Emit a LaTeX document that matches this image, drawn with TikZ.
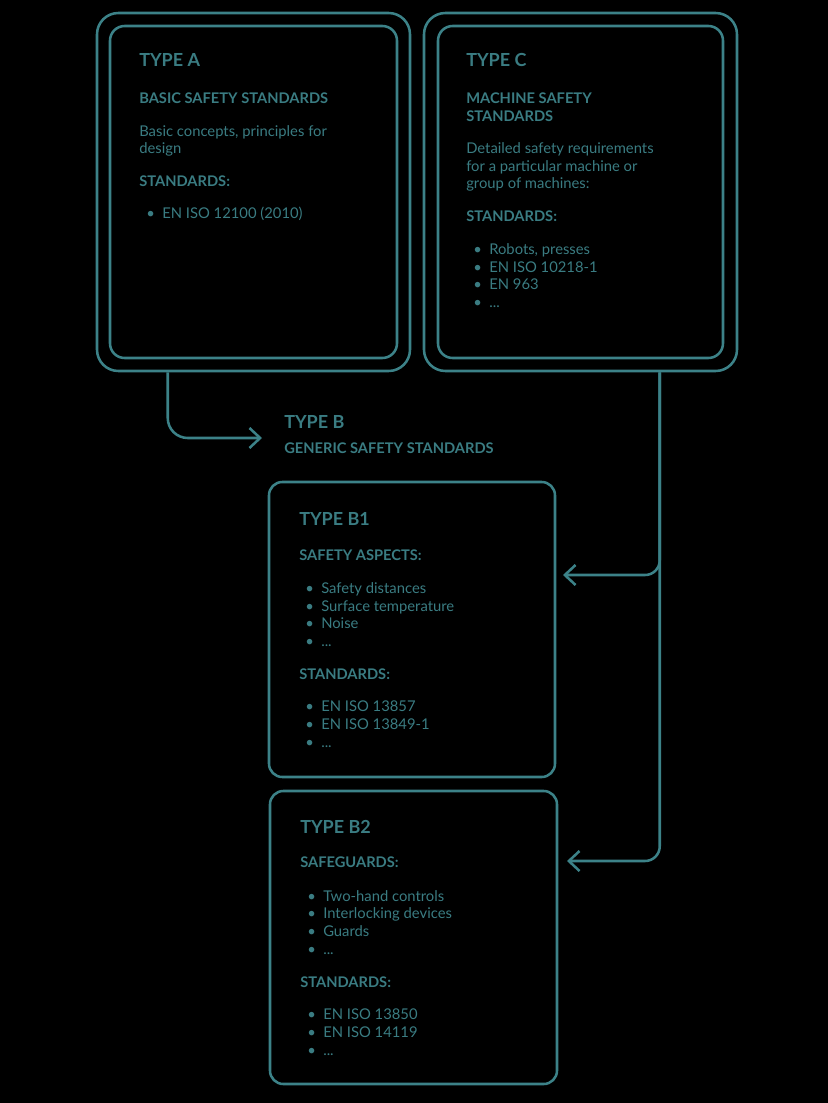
\documentclass[tikz,border=0pt]{standalone}
\usepackage{fontspec}
\setmainfont{Lato}
\usepackage{xcolor}
\usetikzlibrary{arrows.meta}
\definecolor{isoline}{RGB}{60,130,136}
\definecolor{isotext}{RGB}{58,124,130}
\newcommand\bul{\makebox[0pt][r]{\textbullet\hspace{5.5pt}}}
\tikzset{
  outerbox/.style={draw=isoline, line width=1.9pt, rounded corners=16pt, inner sep=0pt},
  innerbox/.style={draw=isoline, line width=1.9pt, rounded corners=11pt, inner sep=0pt},
  bbox/.style={draw=isoline, line width=1.9pt, rounded corners=10pt, inner sep=0pt},
  flow/.style={draw=isoline, line width=1.9pt, rounded corners=11pt, -{Straight Barb[length=8pt,width=15pt]}},
  txt/.style={anchor=base west, inner sep=0pt, text=isotext},
  title/.style={txt, font=\bfseries\fontsize{13.5pt}{16pt}\selectfont},
  head/.style={txt, font=\bfseries\fontsize{11pt}{13pt}\selectfont},
  body/.style={txt, font=\fontsize{11.1pt}{13pt}\selectfont},
}
\begin{document}
\begin{tikzpicture}[x=0.75pt,y=0.75pt,yscale=-1,xscale=1]
\fill[black] (0,0) rectangle (828,1103);
\useasboundingbox (0,0) rectangle (828,1103);

% boxes
\node[outerbox, minimum width=234.75pt, minimum height=268.5pt] (oA) at (253.5,192) {};
\node[innerbox, minimum width=215.25pt, minimum height=249pt] (iA) at (253.5,192) {};
\node[outerbox, minimum width=234.75pt, minimum height=268.5pt] (oC) at (580.5,192) {};
\node[innerbox, minimum width=213.75pt, minimum height=249pt] (iC) at (580.5,192) {};
\node[bbox, minimum width=214.5pt, minimum height=221.25pt] (B1) at (412,629.5) {};
\node[bbox, minimum width=215.25pt, minimum height=219.75pt] (B2) at (413.5,937.5) {};

% type A
\node[title] (tA) at (139,66.5) {TYPE A};
\node[head] (hA) at (139,103) {BASIC SAFETY STANDARDS};
\node[body] (dA1) at (139,136) {Basic concepts, principles for};
\node[body] (dA2) at (139,153) {design};
\node[head] (sA) at (139,186) {STANDARDS:};
\node[body] (sA1) at (162,218) {\bul EN ISO 12100 (2010)};

% type C
\node[title] (tC) at (466,66.5) {TYPE C};
\node[head] (hC1) at (466,103) {MACHINE SAFETY};
\node[head] (hC2) at (466,121) {STANDARDS};
\node[body] (dC1) at (466,153) {Detailed safety requirements};
\node[body] (dC2) at (466,171) {for a particular machine or};
\node[body] (dC3) at (466,188) {group of machines:};
\node[head] (sC) at (466,221) {STANDARDS:};
\node[body] (sC1) at (489,254) {\bul Robots, presses};
\node[body] (sC2) at (489,272) {\bul EN ISO 10218-1};
\node[body] (sC3) at (489,289) {\bul EN 963};
\node[body] (sC4) at (489,307) {\bul ...};

% type B
\node[title] (tB) at (284,428.5) {TYPE B};
\node[head] (hB) at (284,453) {GENERIC SAFETY STANDARDS};

% type B1
\node[title] (tB1) at (299,525.5) {TYPE B1};
\node[head] (hB1) at (299,560) {SAFETY ASPECTS:};
\node[body] (aB1) at (321,593) {\bul Safety distances};
\node[body] (aB2) at (321,611) {\bul Surface temperature};
\node[body] (aB3) at (321,628) {\bul Noise};
\node[body] (aB4) at (321,646) {\bul ...};
\node[head] (sB1) at (299,679) {STANDARDS:};
\node[body] (sB11) at (321,711) {\bul EN ISO 13857};
\node[body] (sB12) at (321,729) {\bul EN ISO 13849-1};
\node[body] (sB13) at (321,747) {\bul ...};

% type B2
\node[title] (tB2) at (300,833.5) {TYPE B2};
\node[head] (hB2) at (300,867) {SAFEGUARDS:};
\node[body] (gB1) at (323,901) {\bul Two-hand controls};
\node[body] (gB2) at (323,918) {\bul Interlocking devices};
\node[body] (gB3) at (323,936) {\bul Guards};
\node[body] (gB4) at (323,954) {\bul ...};
\node[head] (sB2) at (300,987) {STANDARDS:};
\node[body] (sB21) at (323,1019) {\bul EN ISO 13850};
\node[body] (sB22) at (323,1037) {\bul EN ISO 14119};
\node[body] (sB23) at (323,1055) {\bul ...};

% connectors
\coordinate (bIn) at (262,438);
\coordinate (b1In) at (563,575);
\coordinate (b2In) at (567,861);
\draw[flow, rounded corners=15pt] (oA.south west) ++(72,0) |- (bIn);
\draw[flow] (oC.south west) ++(237,0) |- (b1In);
\draw[flow] (oC.south west) ++(237,0) |- (b2In);
\end{tikzpicture}
\end{document}
